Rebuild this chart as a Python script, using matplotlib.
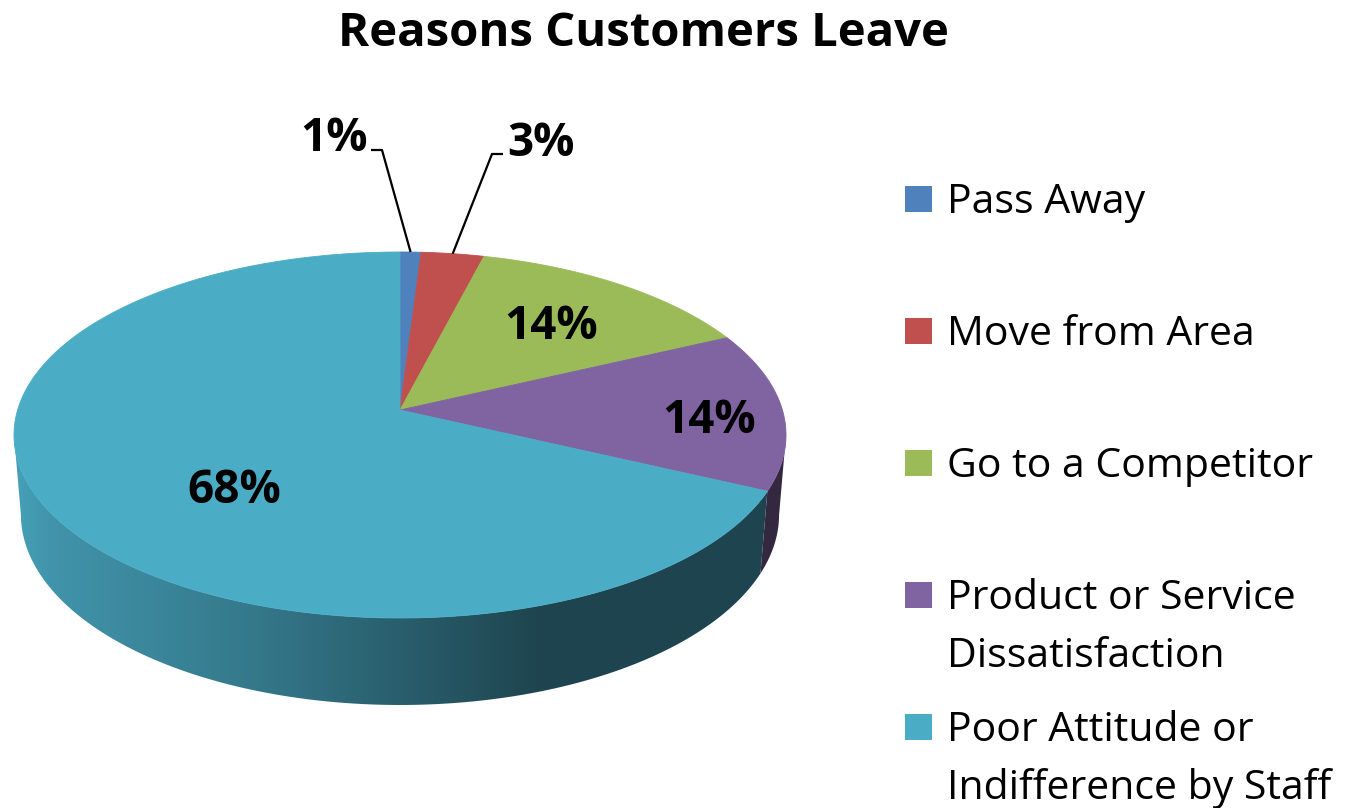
import numpy as np
import matplotlib
matplotlib.use("Agg")
import matplotlib.pyplot as plt
from matplotlib.patches import Polygon, Rectangle
from matplotlib.colors import to_rgb

# ---------------- data ----------------
title = "Reasons Customers Leave"
categories = ["Pass Away", "Move from Area", "Go to a Competitor",
              "Product or Service\nDissatisfaction",
              "Poor Attitude or\nIndifference by Staff"]
values = [1, 3, 14, 14, 68]
pct_labels = ["1%", "3%", "14%", "14%", "68%"]
colors = ["#4F81BD", "#C0504D", "#9BBB59", "#8064A2", "#4BACC6"]

# ---------------- layout ----------------
W, H = 1349, 808
fig = plt.figure(figsize=(W / 100, H / 100), dpi=100)
ax = fig.add_axes([0, 0, 1, 1])
ax.set_xlim(0, W)
ax.set_ylim(H, 0)
ax.axis("off")

# perspective projection of a disc (center, half-width, half-depth, perspective)
CX, CY = 400, 410
HX, SY, K = 382.4, 179.6, 0.1366
TH, M = 80.4, 0.018  # side thickness and depth shift


def top_pt(th):
    t = np.radians(th)
    w = 1 + K * np.cos(t)
    return CX + HX * np.sin(t) / w, CY - SY * np.cos(t) / w


def bot_pt(th):
    t = np.radians(th)
    w = 1 + M + K * np.cos(t)
    return CX + HX * np.sin(t) / w, CY - (SY * np.cos(t) - TH) / w


def arc(fn, a, b, n=200):
    th = np.linspace(a, b, n)
    x, y = fn(th)
    return np.column_stack([x, y])


# side shading factor along screen x
shade_x = [0, 15, 51, 255, 408, 540, 1349]
shade_f = [0.93, 0.93, 0.86, 0.70, 0.54, 0.40, 0.40]

fracs = np.array(values, dtype=float) / np.sum(values)
bounds = np.concatenate([[0], np.cumsum(fracs) * 360])

th_r = np.degrees(np.arccos(-K))
th_l = 360 - th_r

xs = np.arange(0, 800)
fx = np.interp(xs + 0.5, shade_x, shade_f)

for i, c in enumerate(colors):
    a, b = bounds[i], bounds[i + 1]
    lo, hi = max(a, th_r), min(b, th_l)
    if lo < hi:
        pts = np.vstack([arc(top_pt, lo, hi), arc(bot_pt, hi, lo)])
        poly = Polygon(pts, closed=True, facecolor="none", edgecolor="none")
        ax.add_patch(poly)
        base = np.array(to_rgb(c))
        img = np.clip(fx[None, :, None] * base[None, None, :], 0, 1)
        img = np.repeat(img, 2, axis=0)
        im = ax.imshow(img, extent=(0, 800, 760, 380), aspect="auto",
                       interpolation="bilinear", zorder=1)
        im.set_clip_path(poly)

for i, c in enumerate(colors):
    a, b = bounds[i], bounds[i + 1]
    pts = np.vstack([[CX, CY], arc(top_pt, a, b)])
    ax.add_patch(Polygon(pts, closed=True, facecolor=c, edgecolor=c,
                         linewidth=0.6, zorder=2))

ax.set_xlim(0, W)
ax.set_ylim(H, 0)

# ---------------- labels ----------------
bold = dict(family="Open Sans", fontweight="bold", fontsize=33,
            color="black", ha="center", va="baseline", zorder=5)
label_pos = [(334, 151), (541, 156), (551, 339), (709, 433), (234, 503)]
elbows = [((371, 150), (382, 150)), ((503, 154), (492, 154)), None, None, None]
for i, txt in enumerate(pct_labels):
    ax.text(label_pos[i][0], label_pos[i][1], txt, **bold)
    if elbows[i] is not None:
        mid = (bounds[i] + bounds[i + 1]) / 2
        ex, ey = top_pt(mid)
        (x0, y0), (x1, y1) = elbows[i]
        ax.plot([x0, x1, ex], [y0, y1, ey], color="black", lw=1.6,
                zorder=6, solid_capstyle="butt")

ax.text(643, 46, title, family="Open Sans", fontweight="bold", fontsize=34,
        ha="center", va="baseline", color="black")

# ---------------- legend ----------------
leg_y = [199, 331, 463, 595, 727]
for i, (lab, c) in enumerate(zip(categories, colors)):
    ax.add_patch(Rectangle((905, leg_y[i] - 13), 27, 26, facecolor=c,
                           edgecolor="none", zorder=3))
    for j, line in enumerate(lab.split("\n")):
        ax.text(947, leg_y[i] + 14 + 58 * j, line, family="Open Sans",
                fontsize=29.5, ha="left", va="baseline", color="black")

fig.savefig("out.png", dpi=100)
